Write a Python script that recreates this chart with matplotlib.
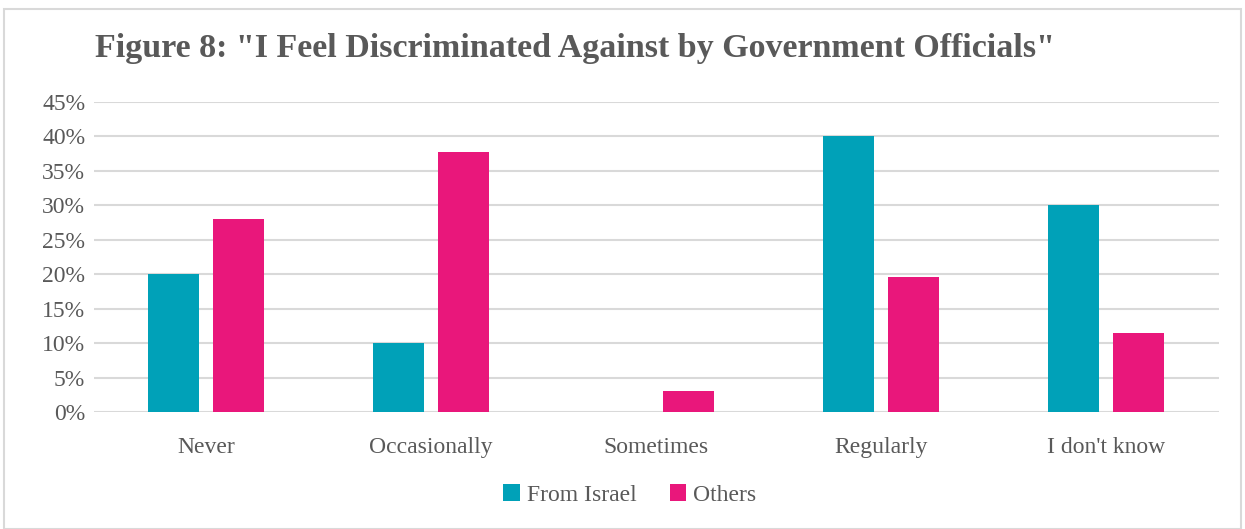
import matplotlib
matplotlib.use("Agg")
import matplotlib.pyplot as plt
import numpy as np
from matplotlib.patches import Rectangle

categories = ["Never", "Occasionally", "Sometimes", "Regularly", "I don't know"]
from_israel = [20, 10, 0, 40, 30]
others = [28, 37.7, 3, 19.6, 11.5]
series_names = ["From Israel", "Others"]
yticks = [0, 5, 10, 15, 20, 25, 30, 35, 40, 45]

teal = "#00A1B8"
pink = "#E9177B"
txt = "#595959"

plt.rcParams["font.family"] = ["Liberation Serif", "DejaVu Serif"]

fig = plt.figure(figsize=(12.45, 5.29), dpi=100)
fig.patches.append(Rectangle((0.003, 0.0), 0.994, 0.983, transform=fig.transFigure,
                             fill=False, edgecolor="#D9D9D9", linewidth=1.5))

ax = fig.add_axes([93.5 / 1245, 1 - 412 / 529, 1125 / 1245, 310 / 529])

x = np.arange(len(categories))
w = 0.227
off = 0.144
ax.bar(x - off, from_israel, w, color=teal, label=series_names[0], zorder=3)
ax.bar(x + off, others, w, color=pink, label=series_names[1], zorder=3)

ax.set_xlim(-0.5, len(categories) - 0.5)
ax.set_ylim(0, 45)
ax.set_yticks(yticks)
ax.set_yticklabels([f"{v}%" for v in yticks], fontsize=17, color=txt)
ax.set_xticks(x)
ax.set_xticklabels(categories, fontsize=17, color=txt)
ax.tick_params(axis="both", length=0)
ax.tick_params(axis="x", pad=18)
ax.tick_params(axis="y", pad=6)
ax.grid(axis="y", color="#D9D9D9", linewidth=1.5, zorder=0)
for s in ax.spines.values():
    s.set_visible(False)

fig.text(95 / 1245, 1 - 49 / 529, 'Figure 8: "I Feel Discriminated Against by Government Officials"',
         fontsize=24.5, fontweight="bold", color=txt, va="center", ha="left")

fig.legend(loc="center", bbox_to_anchor=(630 / 1245, 1 - 495 / 529), ncol=2, frameon=False,
           fontsize=17, labelcolor=txt, handlelength=0.7, handleheight=0.7,
           handletextpad=0.3, columnspacing=1.4)

fig.savefig("out.png", dpi=100)
